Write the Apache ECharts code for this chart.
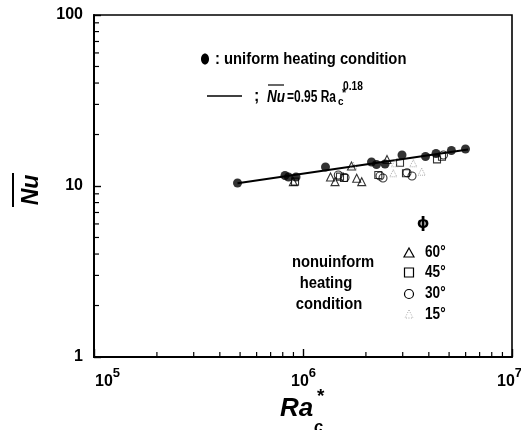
<!DOCTYPE html>
<html>
<head>
<meta charset="utf-8">
<script src="https://cdn.jsdelivr.net/npm/echarts@6/dist/echarts.min.js"></script>
<style>
  html, body { margin: 0; padding: 0; background: #fff; }
  #chart { width: 521px; height: 430px; }
</style>
</head>
<body>
<div id="chart"></div>
<script>
const FONT = '"Liberation Sans", Arial, sans-serif';

// Uniform heating condition: modified Rayleigh number vs mean Nusselt number
const uniformRa = [4.86e5, 8.20e5, 8.52e5, 9.26e5, 1.281e6, 2.127e6, 2.247e6, 2.469e6, 2.977e6, 3.856e6, 4.33e6, 5.13e6, 5.99e6];
const uniformNu = [10.41, 11.52, 11.29, 11.29, 12.91, 13.82, 13.36, 13.45, 15.18, 14.88, 15.49, 16.13, 16.46];

// Non-uniform heating condition, phi = 60 deg
const phi60Ra = [8.99e5, 1.354e6, 1.423e6, 1.706e6, 1.807e6, 1.91e6, 2.523e6];
const phi60Nu = [10.60, 11.29, 10.60, 13.09, 11.09, 10.60, 14.29];

// phi = 45 deg
const phi45Ra = [9.16e5, 1.503e6, 1.571e6, 2.293e6, 2.912e6, 3.11e6, 4.377e6, 4.624e6];
const phi45Nu = [10.60, 11.34, 11.14, 11.60, 13.69, 11.87, 14.32, 14.84];

// phi = 30 deg
const phi30Ra = [1.475e6, 1.589e6, 2.336e6, 2.414e6, 3.145e6, 3.323e6, 4.701e6];
const phi30Nu = [11.60, 11.21, 11.44, 11.14, 11.96, 11.44, 15.18];

// phi = 15 deg
const phi15Ra = [1.74e6, 2.705e6, 2.756e6, 3.372e6, 3.698e6];
const phi15Nu = [13.15, 11.87, 13.58, 13.58, 12.12];

// Correlation line Nu = 0.95 Ra^0.18, end points over the data range
const fitRa = [4.86e5, 6.16e6];
const fitNu = [10.38, 16.35];

// Axis ranges and minor tick values
const xRange = [1e5, 1e7];
const yRange = [1, 100];
const xMinorTicks = [2e5, 3e5, 4e5, 5e5, 6e5, 7e5, 8e5, 9e5, 2e6, 3e6, 4e6, 5e6, 6e6, 7e6, 8e6, 9e6];
const yMinorTicks = [2, 3, 4, 5, 6, 7, 8, 9, 20, 30, 40, 50, 60, 70, 80, 90];

const pairs = (xs, ys) => xs.map((x, i) => [x, ys[i]]);

const chart = echarts.init(document.getElementById('chart'), null, { renderer: 'canvas' });

const openStyle = { color: 'transparent', borderColor: '#000', borderWidth: 1.1 };

function minorTickSeries(values, isX) {
  return {
    type: 'custom',
    silent: true,
    z: 5,
    data: values.map(v => isX ? [v, yRange[0]] : [xRange[0], v]),
    renderItem: function (params, api) {
      const p = api.coord([api.value(0), api.value(1)]);
      const len = 5;
      return {
        type: 'line',
        shape: isX
          ? { x1: p[0], y1: p[1], x2: p[0], y2: p[1] - len }
          : { x1: p[0], y1: p[1], x2: p[0] + len, y2: p[1] },
        style: { stroke: '#000', lineWidth: 1.2 }
      };
    }
  };
}

// Horizontally condensed bold label placed at (x, y)
function label(text, x, y, size, sx, opts) {
  opts = opts || {};
  return {
    type: 'text', x: x, y: y, scaleX: sx,
    style: {
      text: text, x: 0, y: 0,
      align: opts.align || 'left',
      verticalAlign: opts.va || 'middle',
      font: (opts.italic ? 'italic ' : '') + 'bold ' + size + 'px ' + FONT,
      fill: opts.fill || '#000'
    }
  };
}

// Power-of-ten tick labels: base "10" plus a raised exponent
const baseStyle = { fontFamily: FONT, fontWeight: 'bold', fontSize: 16, color: '#000', verticalAlign: 'bottom', lineHeight: 20 };
const expStyle = { fontFamily: FONT, fontWeight: 'bold', fontSize: 13, color: '#000', verticalAlign: 'bottom', lineHeight: 20 };

const option = {
  backgroundColor: '#fff',
  animation: false,
  grid: {
    left: 94, right: 9, top: 15, bottom: 73,
    outerBoundsMode: 'none',
    containLabel: false,
    show: true, borderColor: '#000', borderWidth: 1.6, backgroundColor: 'transparent'
  },
  xAxis: {
    type: 'log', logBase: 10, min: xRange[0], max: xRange[1],
    axisLine: { lineStyle: { color: '#000', width: 2 } },
    axisTick: { inside: true, length: 8, lineStyle: { color: '#000', width: 1.4 } },
    splitLine: { show: false },
    axisLabel: {
      margin: 13,
      formatter: v => {
        const e = Math.round(Math.log10(v));
        return '{b' + e + '|10}{s' + e + '|' + e + '}';
      },
      rich: {
        b5: Object.assign({}, baseStyle, { padding: [0, 0, 0, 27] }),
        s5: Object.assign({}, expStyle, { padding: [0, 0, 10, 0] }),
        b6: Object.assign({}, baseStyle, { padding: [0, 0, 0, 1] }),
        s6: Object.assign({}, expStyle, { padding: [0, 0, 10, 0] }),
        b7: Object.assign({}, baseStyle),
        s7: Object.assign({}, expStyle, { padding: [0, 5, 10, 0] })
      }
    }
  },
  yAxis: {
    type: 'log', logBase: 10, min: yRange[0], max: yRange[1],
    axisLine: { lineStyle: { color: '#000', width: 2 } },
    axisTick: { inside: true, length: 7, lineStyle: { color: '#000', width: 1.4 } },
    splitLine: { show: false },
    axisLabel: {
      margin: 11,
      fontFamily: FONT, fontWeight: 'bold', fontSize: 16, color: '#000'
    }
  },
  series: [
    minorTickSeries(xMinorTicks, true),
    minorTickSeries(yMinorTicks, false),
    {
      name: 'fit', type: 'line', data: pairs(fitRa, fitNu),
      symbol: 'none', lineStyle: { color: '#000', width: 2 }, z: 3
    },
    {
      name: '60', type: 'scatter', data: pairs(phi60Ra, phi60Nu),
      symbol: 'triangle', symbolSize: 8, itemStyle: openStyle, z: 4
    },
    {
      name: '45', type: 'scatter', data: pairs(phi45Ra, phi45Nu),
      symbol: 'rect', symbolSize: 7, itemStyle: openStyle, z: 4
    },
    {
      name: '30', type: 'scatter', data: pairs(phi30Ra, phi30Nu),
      symbol: 'circle', symbolSize: 8, itemStyle: openStyle, z: 4
    },
    {
      name: '15', type: 'scatter', data: pairs(phi15Ra, phi15Nu),
      symbol: 'triangle', symbolSize: 7,
      itemStyle: { color: 'transparent', borderColor: '#999', borderWidth: 1, borderType: 'dotted' }, z: 4
    },
    {
      name: 'uniform', type: 'scatter', data: pairs(uniformRa, uniformNu),
      symbol: 'circle', symbolSize: 9, itemStyle: { color: '#000' }, z: 6
    }
  ],
  graphic: [
    // y-axis title: mean Nusselt number with overbar, rotated
    {
      type: 'group', x: 32, y: 190, rotation: Math.PI / 2,
      children: [
        { type: 'text', style: { text: 'Nu', x: 0, y: 0, align: 'center', verticalAlign: 'middle',
          font: 'italic bold 23px ' + FONT, fill: '#000' } },
        { type: 'line', shape: { x1: -17, y1: -19, x2: 17, y2: -19 }, style: { stroke: '#000', lineWidth: 2 } }
      ]
    },
    // x-axis title Ra_c*
    { type: 'text', style: { text: 'Ra', x: 280, y: 422, verticalAlign: 'bottom', font: 'italic bold 26px ' + FONT, fill: '#000' } },
    { type: 'text', style: { text: 'c', x: 314, y: 420, verticalAlign: 'top', font: 'italic bold 16px ' + FONT, fill: '#000' } },
    { type: 'text', style: { text: '*', x: 317, y: 387, verticalAlign: 'top', font: 'bold 19px ' + FONT, fill: '#000' } },

    // key: uniform heating condition
    { type: 'ellipse', shape: { cx: 205, cy: 59, rx: 4, ry: 5.5 }, style: { fill: '#000' } },
    label(': uniform heating condition', 215, 59, 17, 0.87),

    // key: correlation line
    { type: 'line', shape: { x1: 207, y1: 96, x2: 242, y2: 96 }, style: { stroke: '#000', lineWidth: 1.5 } },
    label(';', 254, 97, 16, 1),
    label('Nu', 267, 98, 16, 0.85, { italic: true }),
    { type: 'line', shape: { x1: 268, y1: 85, x2: 284, y2: 85 }, style: { stroke: '#000', lineWidth: 1.2 } },
    label('=0.95 Ra', 287, 98, 16, 0.75),
    label('c', 338, 102, 11, 0.9),
    label('*', 342, 94, 12, 0.9),
    label('0.18', 343, 87, 12, 0.85),

    // non-uniform heating annotation
    label('nonuinform', 333, 262, 17, 0.87, { align: 'center' }),
    label('heating', 326, 283, 17, 0.87, { align: 'center' }),
    label('condition', 329, 304, 17, 0.87, { align: 'center' }),

    // phi key
    { type: 'text', style: { text: 'ϕ', x: 423, y: 224, align: 'center', verticalAlign: 'middle', font: 'bold 16px "DejaVu Sans", sans-serif', fill: '#000' } },
    { type: 'polygon', shape: { points: [[409, 248], [414, 257], [404, 257]] }, style: { fill: 'none', stroke: '#000', lineWidth: 1.2 } },
    label('60°', 425, 253, 16, 0.85),
    { type: 'rect', shape: { x: 404.5, y: 268, width: 9, height: 9 }, style: { fill: 'none', stroke: '#000', lineWidth: 1.2 } },
    label('45°', 425, 273, 16, 0.85),
    { type: 'circle', shape: { cx: 409, cy: 294, r: 4.5 }, style: { fill: 'none', stroke: '#000', lineWidth: 1.2 } },
    label('30°', 425, 294, 16, 0.85),
    { type: 'polygon', shape: { points: [[409, 310], [413, 318], [405, 318]] }, style: { fill: 'none', stroke: '#aaa', lineWidth: 1, lineDash: [1, 1.5] } },
    label('15°', 425, 315, 16, 0.85)
  ]
};

chart.setOption(option);
</script>
</body>
</html>
